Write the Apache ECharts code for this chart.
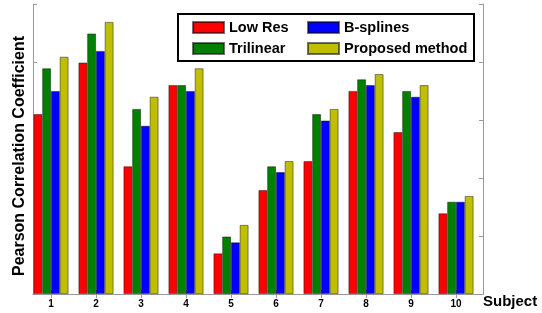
<!DOCTYPE html>
<html>
<head>
<meta charset="utf-8">
<script src="https://cdn.jsdelivr.net/npm/echarts@6/dist/echarts.min.js"></script>
<style>
  html, body { margin: 0; padding: 0; background: #fff; }
  #chart { width: 542px; height: 313px; }
</style>
</head>
<body>
<div id="chart"></div>
<script>
// data
const subjects = [1, 2, 3, 4, 5, 6, 7, 8, 9, 10];
const lowRes    = [0.310, 0.399, 0.220, 0.360, 0.070, 0.179, 0.229, 0.350, 0.279, 0.139];
const trilinear = [0.389, 0.449, 0.319, 0.360, 0.099, 0.220, 0.310, 0.370, 0.350, 0.159];
const bsplines  = [0.350, 0.419, 0.290, 0.350, 0.089, 0.210, 0.299, 0.360, 0.340, 0.159];
const proposed  = [0.409, 0.469, 0.340, 0.389, 0.119, 0.229, 0.319, 0.379, 0.360, 0.169];

const font = "'Liberation Sans', Arial, sans-serif";
const frame = '#999';

function pairs(vals) {
    return vals.map((v, i) => [subjects[i], v]);
}

function bar(name, vals, color) {
    return {
        name: name,
        type: 'bar',
        data: pairs(vals),
        barWidth: 8.75,
        barGap: '0%',
        itemStyle: { color: color, borderColor: 'rgba(0,0,0,0.55)', borderWidth: 0.8 }
    };
}

const xBase = {
    type: 'value',
    min: 0.6,
    max: 10.6,
    splitLine: { show: false },
    axisLine: { show: true, lineStyle: { color: frame } },
    axisTick: { show: true, inside: true, length: 4, customValues: subjects, lineStyle: { color: frame } }
};

const yBase = {
    type: 'value',
    min: 0,
    max: 0.5,
    interval: 0.1,
    splitLine: { show: false },
    axisLabel: { show: false },
    axisLine: { show: true, lineStyle: { color: frame } },
    axisTick: { show: true, inside: true, length: 4, lineStyle: { color: frame } }
};

const legendBase = {
    orient: 'vertical',
    top: 15,
    icon: 'rect',
    itemWidth: 31,
    itemHeight: 11,
    itemGap: 6,
    z: 10,
    selectedMode: false,
    textStyle: { fontFamily: font, fontWeight: 'bold', fontSize: 14.5, color: '#000' }
};

let chart = echarts.init(document.getElementById('chart'), null, { renderer: 'canvas' });

let option = {
    animation: false,
    backgroundColor: '#fff',
    grid: { left: 33, right: 59, top: 4, bottom: 19 },
    graphic: [{
        type: 'rect',
        left: 177,
        top: 13,
        z: 5,
        shape: { width: 296, height: 47 },
        style: { fill: '#fff', stroke: '#000', lineWidth: 2 }
    }],
    legend: [
        Object.assign({}, legendBase, { left: 187, data: ['Low Res', 'Trilinear'] }),
        Object.assign({}, legendBase, { left: 302, data: ['B-splines', 'Proposed method'] })
    ],
    xAxis: [
        Object.assign({}, xBase, {
            position: 'bottom',
            name: 'Subject',
            nameLocation: 'end',
            nameGap: 0,
            nameTextStyle: { fontFamily: font, fontWeight: 'bold', fontSize: 15, color: '#000', verticalAlign: 'top', padding: [0, 0, 0, 0] },
            axisLabel: { show: true, customValues: subjects, margin: 5, fontFamily: font, fontWeight: 'bold', fontSize: 10, color: '#000' }
        }),
        Object.assign({}, xBase, { position: 'top', axisLabel: { show: false } })
    ],
    yAxis: [
        Object.assign({}, yBase, {
            position: 'left',
            name: 'Pearson Correlation Coefficient',
            nameLocation: 'middle',
            nameGap: 5,
            nameTextStyle: { fontFamily: font, fontWeight: 'bold', fontSize: 16, color: '#000', padding: [0, 14, 0, 0] }
        }),
        Object.assign({}, yBase, { position: 'right' })
    ],
    series: [
        bar('Low Res', lowRes, '#ff0000'),
        bar('Trilinear', trilinear, '#008000'),
        bar('B-splines', bsplines, '#0000ff'),
        bar('Proposed method', proposed, '#bfbf00')
    ]
};

chart.setOption(option);
</script>
</body>
</html>
